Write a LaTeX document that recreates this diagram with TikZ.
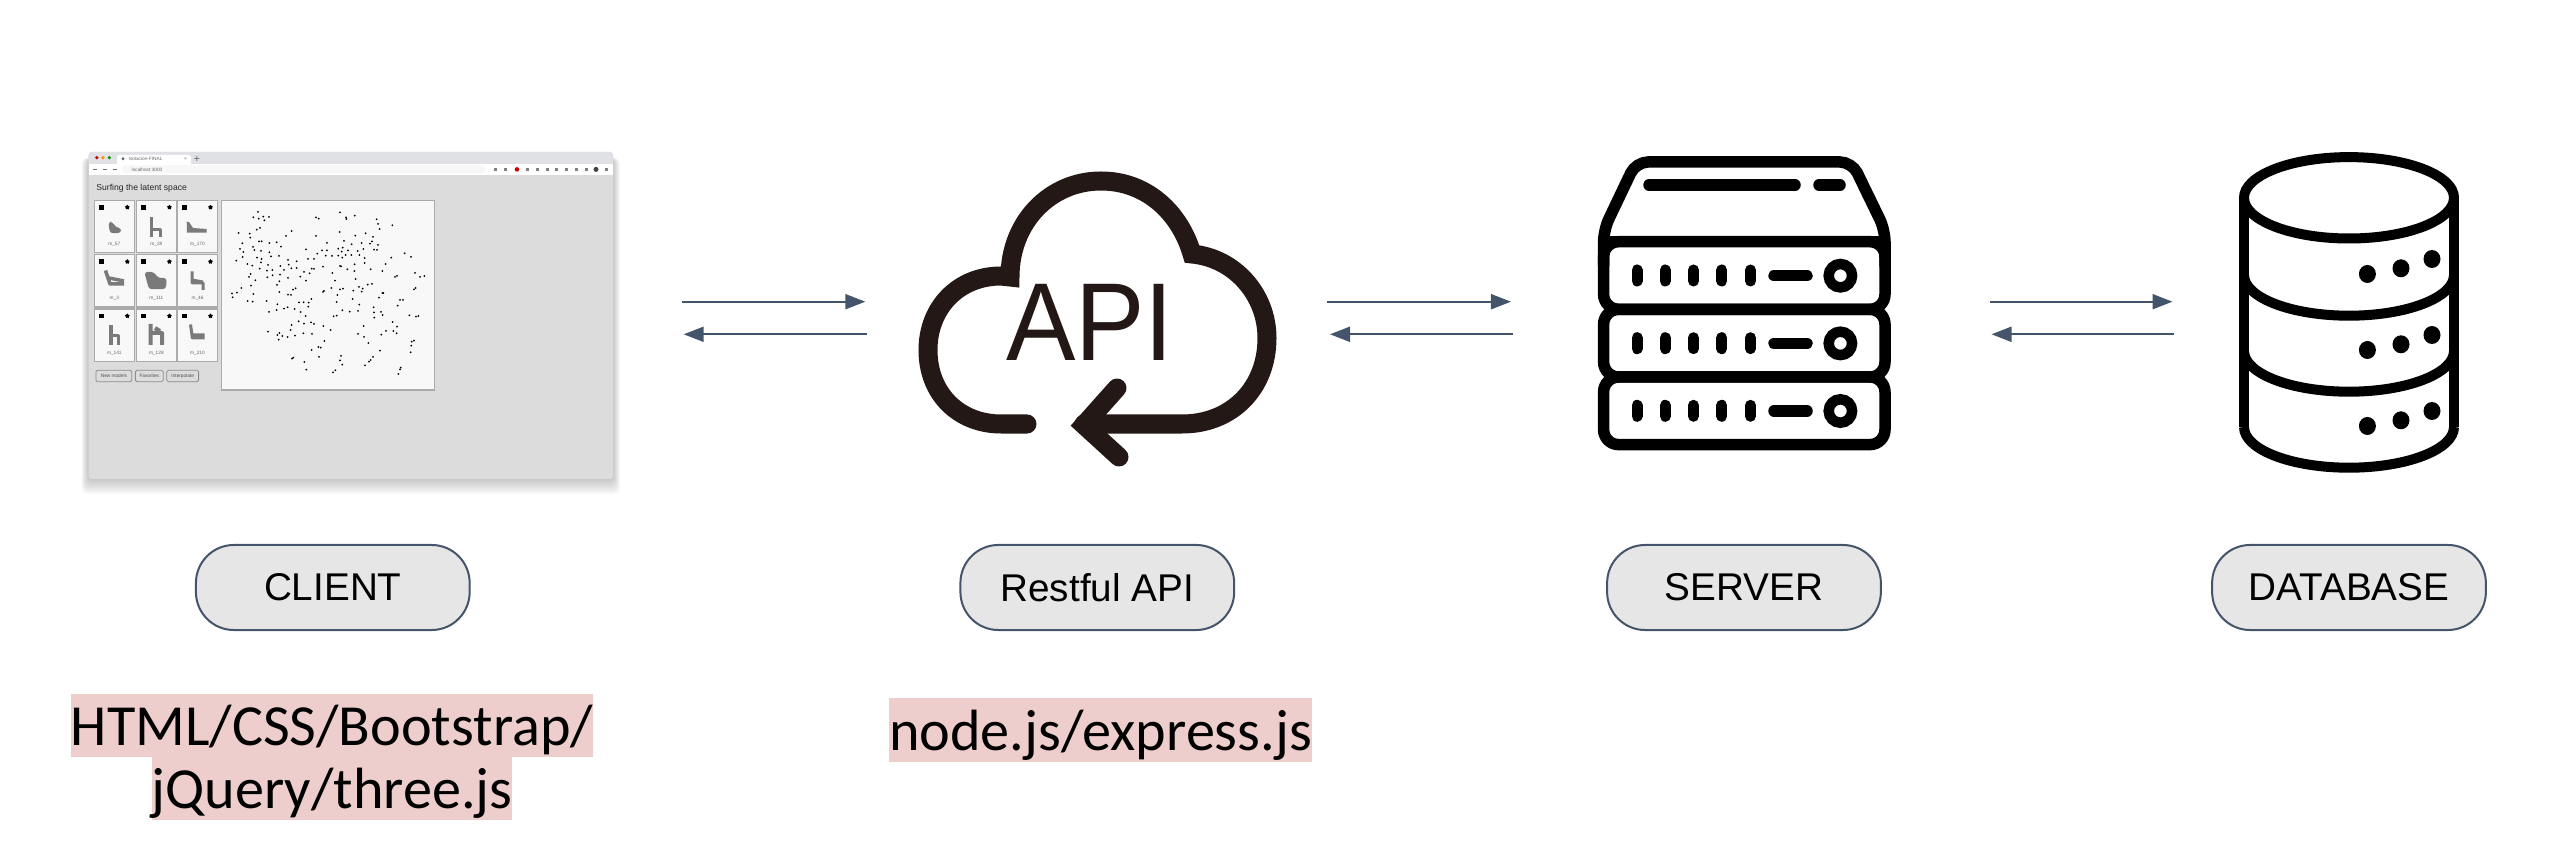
\documentclass[tikz,border=0pt]{standalone}
\usepackage{fontspec}
\setmainfont{Liberation Sans}
\newfontfamily\calibrifont{Carlito}
\usetikzlibrary{arrows.meta,shapes.geometric}

\definecolor{slateline}{HTML}{44546A}
\definecolor{pillfill}{HTML}{E7E6E6}
\definecolor{marker}{HTML}{EECDCD}
\definecolor{cloudink}{HTML}{231815}
\definecolor{pagegray}{HTML}{DCDCDC}
\definecolor{tabgray}{HTML}{DFE1E5}
\definecolor{cardline}{HTML}{ABABAB}
\definecolor{panelwhite}{HTML}{F8F8F8}

\tikzset{
    pill/.style={draw=slateline, line width=0.02cm, fill=pillfill, rounded corners=0.38cm,
        minimum width=2.736cm, minimum height=0.85cm, inner sep=0pt,
        font=\fontsize{11pt}{13pt}\selectfont},
    stacklabel/.style={fill=marker, inner xsep=0pt, inner ysep=0pt, text height=0.517cm, text depth=0.113cm,
        font=\calibrifont\fontsize{16.55pt}{20pt}\selectfont},
    flow/.style={draw=slateline, line width=0.02cm, -{Triangle[length=0.2cm,width=0.15cm]}},
    cloudpen/.style={draw=cloudink, line width=0.19cm, line cap=round, miter limit=10},
    serverpen/.style={draw=black, line width=0.115cm, line cap=round},
    dbpen/.style={draw=black, line width=0.1cm},
    card/.style={draw=cardline, line width=0.012cm, fill=panelwhite},
    chairpen/.style={draw=black!52, line width=0.03cm, line join=round},
    tinytext/.style={text=black!60, inner sep=0pt, font=\fontsize{1.35pt}{1.6pt}\selectfont},
    webbutton/.style={draw=black!45, line width=0.008cm, rounded corners=0.015cm, minimum height=0.114cm,
        inner sep=0pt, text=black!70, font=\fontsize{1.35pt}{1.6pt}\selectfont},
}

\begin{document}
\begin{tikzpicture}[x=0.01cm, y=-0.01cm]
    \useasboundingbox (0,0) rectangle (2556,858);

    % Browser window
    \foreach \s in {1,...,10} {
        \fill[black, opacity=0.022, rounded corners=0.06cm] (88.6-0.7*\s,158) rectangle (613+0.7*\s,479+1.5*\s);
    }
    \fill[pagegray, rounded corners=0.03cm] (88.6,152) rectangle (613,479);
    \fill[tabgray, rounded corners=0.03cm] (88.6,152) rectangle (613,166);
    \fill[white, rounded corners=0.02cm] (117,155) rectangle (191,166);
    \fill[white] (88.6,164) rectangle (613,175);
    \fill[red!75!black] (96.8,157.7) circle[radius=1.8];
    \fill[orange!90!yellow] (102.9,157.7) circle[radius=1.8];
    \fill[green!60!black] (109.3,157.7) circle[radius=1.8];
    \fill[black!60] (123,158.7) circle[radius=1.6];
    \fill[black!3, rounded corners=0.04cm] (122,165.5) rectangle (485,173.5);
    \node[tinytext, anchor=west] (tabtitle) at (128,158.7) {Isolacion-FINAL};
    \node[tinytext, anchor=west] (addressbar) at (131,169.5) {localhost:3000};
    \node[tinytext] (tabclose) at (185.4,158.7) {×};
    \node[tinytext] (tabplus) at (197,159.5) {\fontsize{3pt}{3pt}\selectfont +};
    \foreach \bx in {95,105,115} {
        \draw[black!55, line width=0.008cm] (\bx-1.8,169.5) -- (\bx+1.8,169.5);
    }
    \foreach \bx in {495,505,527,537,547,556,566,576,586,606} {
        \fill[black!50] (\bx-1.5,168) rectangle (\bx+1.5,171);
    }
    \fill[red!80!black] (517,169.4) circle[radius=2.3];
    \fill[black!75] (596,169.4) circle[radius=2.5];
    \node[anchor=west, inner sep=0pt, text=black!85, font=\fontsize{2.45pt}{3pt}\selectfont] (pagetitle) at (95.7,188) {Surfing the latent space};

    % Cards
    \foreach \cx/\cy/\cardname/\cardtext in {94.3/200.3/c1/m\_57, 136.4/200.3/c2/m\_28, 177.5/200.3/c3/m\_170,
        94.3/254.7/c4/m\_3, 136.4/254.7/c5/m\_111, 177.5/254.7/c6/m\_46,
        94.3/309/c7/m\_141, 136.4/309/c8/m\_128, 177.5/309/c9/m\_210} {
        \filldraw[card] (\cx,\cy) rectangle (\cx+40,\cy+52.4);
        \fill[black] (\cx+4.8,\cy+4.7) rectangle (\cx+9.6,\cy+9.4);
        \node[star, fill=black, inner sep=0pt, minimum size=0.05cm] (\cardname star) at (\cx+33,\cy+7) {};
        \node[tinytext] (\cardname label) at (\cx+20,\cy+44) {\cardtext};
    }

    % Chairs
    \fill[black!52, rounded corners=0.03cm] (108.3,222) -- (113,222) -- (115,227) -- (121,228) -- (121,233) -- (110,233.3) -- cycle;
    \draw[chairpen] (151.8,217) -- (151.8,237) (151.8,229.5) -- (160,229.5) -- (160,237);
    \fill[black!52] (186.7,221.7) -- (189,222) -- (193,228) -- (206.7,229) -- (206.7,232.7) -- (187,232.7) -- cycle;
    \draw[chairpen, line width=0.035cm] (105.5,270.5) -- (110,284) -- (124,284) (109,278) -- (124,281);
    \fill[black!52, rounded corners=0.03cm] (144.3,272) -- (154,272) -- (158,278) -- (166.7,278) -- (166,289) -- (149,289.3) -- cycle;
    \draw[chairpen] (192,271.5) -- (192,283) -- (203,283) -- (203,290) (192,280) -- (203,282);
    \draw[chairpen, line width=0.035cm] (111,325) -- (111,345) (111,335.5) -- (118.5,335.5) -- (118.5,345);
    \draw[chairpen, line width=0.04cm] (150.5,324) -- (150.5,345) (150.5,333) -- (162,333) -- (162,345) (155,328) -- (160,331);
    \draw[chairpen] (190.5,324.5) -- (192,335) -- (204.5,335) (192,335) -- (192,338) -- (204.5,338);

    % Buttons
    \node[webbutton, minimum width=0.358cm] (newmodels) at (113.9,376) {New models};
    \node[webbutton, minimum width=0.278cm] (favorites) at (149.3,376) {Favorites};
    \node[webbutton, minimum width=0.318cm] (interpolate) at (182.7,376) {Interpolate};

    % Point cloud
    \filldraw[card] (221.4,200.3) rectangle (434.6,390);
    \foreach \px/\py in {144/66,130/82,146/86,160/80,177/81,163/91,150/114,140/119,86/129,119/131,121/143,245/123,228/138,318/82,326/86,
        390/67,408/82,409/87,434/77,500/88,504/102,509/117,547/106,389/126,467/130,436/137,489/141,318/138,97/160,147/154,155/154,178/159,
        200/157,213/170,129/171,133/180,90/177,100/186,153/183,178/187,183/199,98/201,141/203,155/207,207/198,79/212,153/217,112/222,127/227,
        174/225,211/228,234/210,236/224,260/214,149/236,171/242,187/240,222/240,244/235,260/234,122/252,117/261,136/271,172/262,188/256,
        210/254,234/264,208/274,123/287,201/285,94/294,66/310,81/308,68/322,130/312,113/333,128/335,170/333,208/306,249/299,257/295,234/314,
        243/315,202/343,233/352,222/356,200/360,177/366,254/357,272/366,287/378,267/337,281/337,296/338,304/327,295/350,288/178,294/207,
        312/207,322/191,336/181,351/181,351/159,402/153,385/176,398/173,414/181,425/163,455/159,486/154,480/161,504/165,443/183,460/177,
        492/179,501/180,347/197,366/198,385/197,397/203,407/195,424/195,448/195,464/204,395/185,544/203,584/190,603/201,339/230,390/228,
        393/229,412/238,434/223,433/243,464/219,482/238,517/243,527/222,305/236,312/237,282/246,299/250,271/260,288/272,367/249,375/272,
        437/267,555/261,561/258,615/249,630/261,643/258,364/294,339/306,342/303,390/298,399/296,382/315,430/302,447/291,458/296,455/305,
        473/284,486/282,428/327,380/336,448/344,507/323,517/309,520/309,570/330,579/330,563/347,612/298,617/294,397/361,419/365,444/363,
        491/352,492/367,493/383,513/366,518/375,371/379,380/377,598/376,618/380,625/378,548/396,561/410,550/423,560/430,528/423,514/434,
        245/405,266/394,282/401,303/397,312/402,340/408,362/420,242/420,174/425,208/429,202/435,217/438,233/441,255/437,206/449,280/430,
        306/432,343/453,444/432,461/408,462/441,475/459,325/471,332/473,305/480,510/482,605/455,612/452,604/467,602/487,250/503,246/506,
        327/501,393/498,390/511,397/524,489/501,482/510,477/515,465/526,283/516,289/539,376/541,369/547,572/533,570/538,565/552} {
        \fill[black] (\px/3+210,\py/3+190) circle[radius=1];
    }

    % Cloud
    \draw[cloudpen] (1027,424) -- (1001,424) .. controls (960,424) and (928,395) .. (928,350)
        .. controls (928,308) and (958,276) .. (1001,276) -- (1010,277)
        .. controls (1010,222) and (1050,181) .. (1101,181)
        .. controls (1147,181) and (1180,213) .. (1192,254)
        .. controls (1235,258) and (1267,295) .. (1267,338)
        .. controls (1267,388) and (1232,424) .. (1182,424) -- (1084,424);
    \draw[cloudpen] (1117,388) -- (1084,425) -- (1119,457);
    \node[text=cloudink, inner sep=0pt, xscale=0.94, font=\fontsize{31.5pt}{32pt}\selectfont] (apiword) at (1090,322) {API};

    % Server
    \draw[serverpen, rounded corners=0.12cm] (1603.6,265) -- (1603.6,230) -- (1636,162) -- (1852,162) -- (1885,230) -- (1885,265);
    \draw[serverpen, line cap=butt] (1603.6,241.7) -- (1885,241.7);
    \draw[serverpen] (1649,185) -- (1795,185);
    \draw[serverpen] (1819,185) -- (1840,185);
    \foreach \o in {0,67.7,135.3} {
        \draw[serverpen, rounded corners=0.15cm] (1603.6,241.7+\o) rectangle (1885,309.3+\o);
        \foreach \bx in {1637,1665.3,1693.5,1721.7,1750.5} {
            \draw[serverpen, line width=0.11cm] (\bx,270+\o) -- (\bx,281+\o);
        }
        \draw[serverpen] (1774,275.7+\o) -- (1807,275.7+\o);
        \draw[serverpen, line width=0.105cm] (1840.4,275.7+\o) circle[radius=11.7];
    }

    % Database
    \draw[dbpen] (2349,197.8) ellipse[x radius=105, y radius=40.7];
    \draw[dbpen] (2244,197.8) -- (2244,427);
    \draw[dbpen] (2454,197.8) -- (2454,427);
    \foreach \o in {275,351,427} {
        \draw[dbpen] (2244,\o) .. controls (2244,\o+22.5) and (2291,\o+40.7) .. (2349,\o+40.7)
            .. controls (2407,\o+40.7) and (2454,\o+22.5) .. (2454,\o);
        \fill[black] (2367.4,\o-1) ellipse[x radius=8.5, y radius=9];
        \fill[black] (2401,\o-6.7) ellipse[x radius=8.5, y radius=9];
        \fill[black] (2432,\o-16) ellipse[x radius=8.5, y radius=9];
    }

    % Nodes
    \node[pill] (Client) at (332.8,587.5) {CLIENT};
    \node[pill] (RestApi) at (1097.3,587.5) {Restful API};
    \node[pill] (Server) at (1744,587.5) {SERVER};
    \node[pill] (Database) at (2349,587.5) {DATABASE};

    \node[stacklabel] (ClientStackA) at (332,725.5) {HTML/CSS/Bootstrap/};
    \node[stacklabel] (ClientStackB) at (332,788.7) {jQuery/three.js};
    \node[stacklabel] (ApiStack) at (1100.5,730) {node.js/express.js};

    % Edges
    \coordinate (ClientOut) at (681.6,301.7);
    \coordinate (ApiIn) at (865.3,301.7);
    \coordinate (ApiBack) at (867,334.3);
    \coordinate (ClientBack) at (683.7,334.3);
    \coordinate (ApiOut) at (1327,301.7);
    \coordinate (ServerIn) at (1511,301.7);
    \coordinate (ServerBack) at (1513,334.3);
    \coordinate (ApiReturn) at (1330,334.3);
    \coordinate (ServerOut) at (1989.7,301.7);
    \coordinate (DatabaseIn) at (2172.5,301.7);
    \coordinate (DatabaseBack) at (2174,334.3);
    \coordinate (ServerReturn) at (1991.5,334.3);

    \draw[flow] (ClientOut) -- (ApiIn);
    \draw[flow] (ApiBack) -- (ClientBack);
    \draw[flow] (ApiOut) -- (ServerIn);
    \draw[flow] (ServerBack) -- (ApiReturn);
    \draw[flow] (ServerOut) -- (DatabaseIn);
    \draw[flow] (DatabaseBack) -- (ServerReturn);
\end{tikzpicture}
\end{document}
